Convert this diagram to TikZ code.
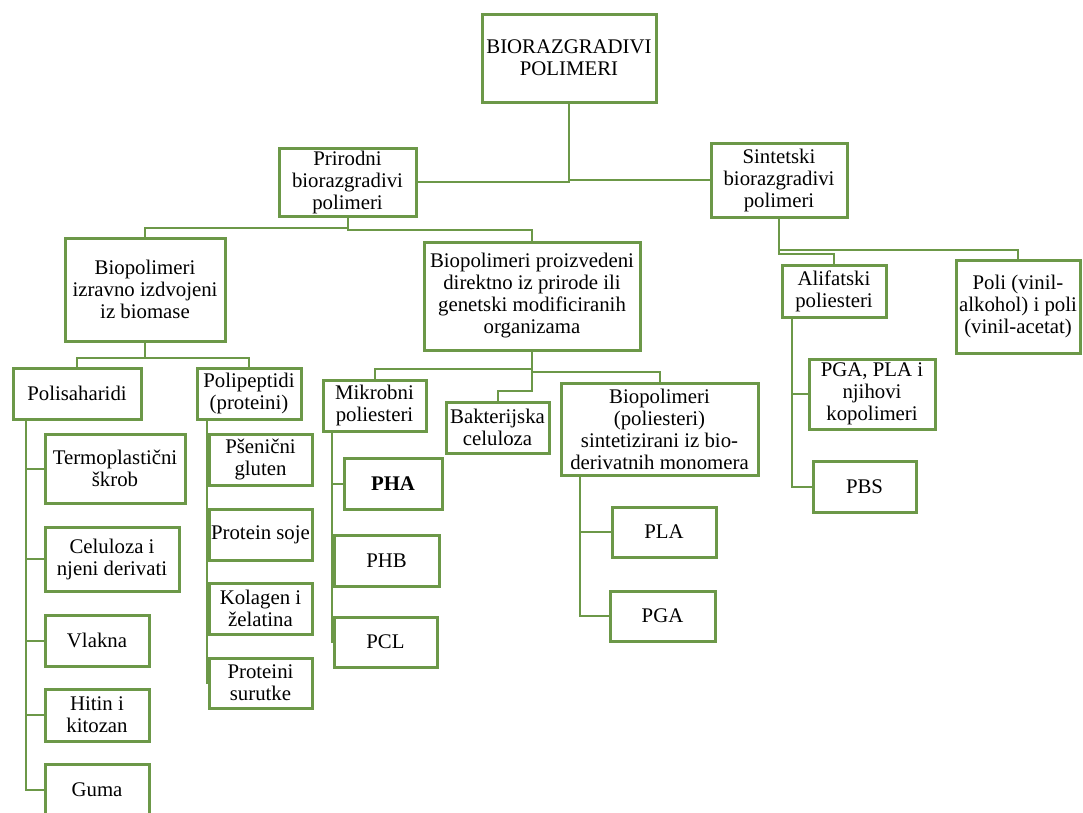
\documentclass[tikz,border=0pt]{standalone}
\usepackage{fontspec}
\setmainfont{Liberation Serif}
\usepackage{tikz}

\definecolor{leafgreen}{RGB}{108,152,72}

\tikzset{
  box/.style={draw=leafgreen, line width=3pt, fill=white, align=center,
    inner sep=1pt, font=\fontsize{20.8}{22}\selectfont},
  link/.style={draw=leafgreen, line width=2pt}
}

\begin{document}
\begin{tikzpicture}[x=1pt, y=-1pt]
  \clip (0,0) rectangle (1083,812);
  \fill[white] (0,0) rectangle (1083,812);

  % Define top levels
  \node[box, minimum width=174, minimum height=88] (R) at (569,58) {BIORAZGRADIVI\\POLIMERI};
  \node[box, minimum width=137, minimum height=68] (P) at (347.5,182) {Prirodni\\biorazgradivi\\polimeri};
  \node[box, minimum width=136, minimum height=74] (S) at (779,180) {Sintetski\\biorazgradivi\\polimeri};

  % Natural branch
  \node[box, minimum width=160, minimum height=103] (I) at (145,289.5) {Biopolimeri\\izravno izdvojeni\\iz biomase};
  \node[box, minimum width=216, minimum height=108] (B) at (532,296) {Biopolimeri proizvedeni\\direktno iz prirode ili\\genetski modificiranih\\organizama};

  \node[box, minimum width=128, minimum height=51] (PS) at (77,393.5) {Polisaharidi};
  \node[box, minimum width=104, minimum height=51] (PP) at (249,393.5) {Polipeptidi\\(proteini)};

  \node[box, minimum width=140, minimum height=69] (T1) at (115,468.5) {Termoplastični\\škrob};
  \node[box, minimum width=134, minimum height=64] (T2) at (112,559) {Celuloza i\\njeni derivati};
  \node[box, minimum width=104, minimum height=51] (T3) at (97,640.5) {Vlakna};
  \node[box, minimum width=104, minimum height=52] (T4) at (97,715) {Hitin i\\kitozan};
  \node[box, minimum width=104, minimum height=52] (T5) at (97,790) {Guma};

  \node[box, minimum width=103, minimum height=51] (G1) at (260.5,459.5) {Pšenični\\gluten};
  \node[box, minimum width=103, minimum height=51] (G2) at (260.5,534.5) {Protein soje};
  \node[box, minimum width=103, minimum height=51] (G3) at (260.5,608.5) {Kolagen i\\želatina};
  \node[box, minimum width=103, minimum height=50] (G4) at (260.5,683) {Proteini\\surutke};

  \node[box, minimum width=103, minimum height=51] (MP) at (374.5,405.5) {Mikrobni\\poliesteri};
  \node[box, minimum width=103, minimum height=51] (BC) at (497.5,427.5) {Bakterijska\\celuloza};
  \node[box, minimum width=197, minimum height=92] (SB) at (659.5,429) {Biopolimeri\\(poliesteri)\\sintetizirani iz bio-\\derivatnih monomera};

  \node[box, minimum width=98, minimum height=51, font=\fontsize{20.8}{22}\selectfont\bfseries] (PHA) at (393,483.5) {PHA};
  \node[box, minimum width=105, minimum height=51] (PHB) at (386.5,560.5) {PHB};
  \node[box, minimum width=103, minimum height=50] (PCL) at (385.5,642) {PCL};

  \node[box, minimum width=104, minimum height=50] (PLA) at (664,532) {PLA};
  \node[box, minimum width=105, minimum height=50] (PGA) at (662.5,616) {PGA};

  % Synthetic branch
  \node[box, minimum width=104, minimum height=52] (AP) at (834,291) {Alifatski\\poliesteri};
  \node[box, minimum width=124, minimum height=93] (PV) at (1018,306.5) {Poli (vinil-\\alkohol) i poli\\(vinil-acetat)};
  \node[box, minimum width=126, minimum height=70] (K) at (872,394) {PGA, PLA i\\njihovi\\kopolimeri};
  \node[box, minimum width=103, minimum height=51] (PBS) at (864.5,486.5) {PBS};

  % Draw connectors
  \draw[link] (R.south) |- (P.east);
  \draw[link] (R.south) |- (S.west);

  \draw[link] (P.south) -- +(0,10) -| (I.north);
  \draw[link] (P.south) -- +(0,12) -| (B.north);

  \draw[link] (I.south) -- +(0,15) -| (PS.north);
  \draw[link] (I.south) -- +(0,15) -| (PP.north);

  \foreach \n in {T1,T2,T3,T4,T5}
    \draw[link] ([xshift=14pt]PS.south west) |- (\n.west);
  \foreach \n in {G1,G2,G3,G4}
    \draw[link] ([xshift=11pt]PP.south west) |- (\n.west);

  \draw[link] (B.south) -- +(0,17) -| (MP.north);
  \draw[link] (B.south) -- +(0,20) -| (SB.north);
  \draw[link] (B.south) -- +(0,39) -| (BC.north);

  \foreach \n in {PHA,PHB,PCL}
    \draw[link] ([xshift=10pt]MP.south west) |- (\n.west);
  \foreach \n in {PLA,PGA}
    \draw[link] ([xshift=20pt]SB.south west) |- (\n.west);

  \draw[link] (S.south) -- +(0,31) -| (PV.north);
  \draw[link] (S.south) -- +(0,35) -| (AP.north);

  \foreach \n in {K,PBS}
    \draw[link] ([xshift=11pt]AP.south west) |- (\n.west);
\end{tikzpicture}
\end{document}
